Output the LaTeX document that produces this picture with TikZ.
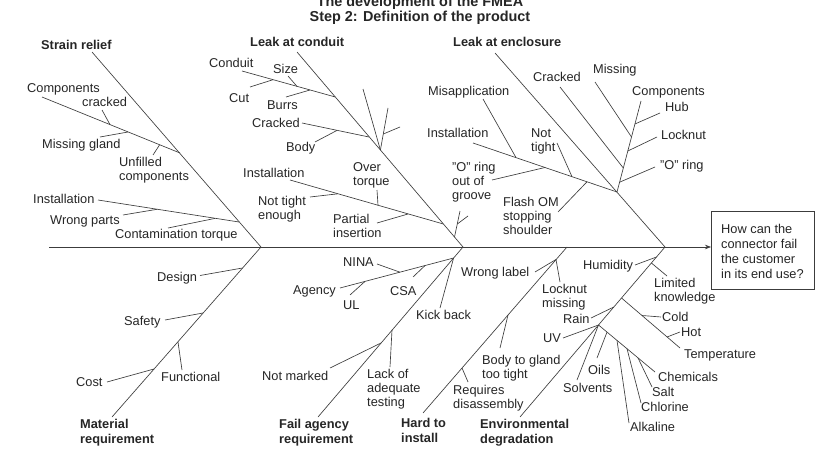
\documentclass[tikz,border=0pt]{standalone}
\usepackage{fontspec}
\setmainfont{Liberation Sans}
\usetikzlibrary{arrows.meta}
\definecolor{ink}{HTML}{262626}
\definecolor{linec}{HTML}{3C3C3C}
\begin{document}
\begin{tikzpicture}[x=1pt,y=-1pt,
  lbl/.style={inner sep=0pt, text=ink, font=\fontsize{12.8}{14}\selectfont, align=left, anchor=north west},
  hd/.style={inner sep=0pt, text=ink, font=\fontsize{12.8}{15}\selectfont\bfseries, align=left, anchor=north west},
  ttl/.style={inner sep=0pt, text=ink, font=\fontsize{14.4}{16}\selectfont\bfseries, anchor=base},
  ln/.style={draw=linec, line width=0.65pt}]
\fill[white] (0,0) rectangle (830,452);
\useasboundingbox (0,0) rectangle (830,452);

% ---------- title ----------
\node[ttl] (t1) at (420,6.5) {The development of the FMEA};
\node[ttl] (t2) at (420,21.5) {Step 2: Definition of the product};

% ---------- spine and box ----------
\coordinate (spL) at (49,247);
\coordinate (SRj) at (261,247);
\coordinate (LCj) at (463,247);
\coordinate (HIj) at (567,247);
\coordinate (LEj) at (665,247);
\node[draw=linec, line width=0.8pt, minimum width=103pt, minimum height=78pt, inner sep=0pt, anchor=north west] (box) at (711,211) {};
\node[lbl, font=\fontsize{12.8}{15}\selectfont] (q) at (721,224.4) {How can the\\connector fail\\the customer\\in its end use?};
\draw[ln, -{Stealth[length=6pt,width=4.5pt]}] (spL) -- (spL -| box.west);

% ---------- main bones ----------
\coordinate (SRt) at (92,52);
\coordinate (MRb) at (112,417);
\coordinate (LCt) at (297,52);
\coordinate (FAb) at (318,417);
\coordinate (LEt) at (495,53);
\coordinate (EDb) at (520,417);
\coordinate (HIb) at (423,413);
\draw[ln] (SRt) -- (SRj) -- (MRb);
\draw[ln] (LCt) -- (LCj) -- (FAb);
\draw[ln] (LEt) -- (LEj) -- (EDb);
\draw[ln] (HIj) -- (HIb);

% ---------- headings ----------
\node[hd] (hSR) at (41,40.4) {Strain relief};
\node[hd] (hLC) at (250,37.4) {Leak at conduit};
\node[hd] (hLE) at (453,37.4) {Leak at enclosure};
\node[hd] (hMR) at (80,419.4) {Material\\requirement};
\node[hd] (hFA) at (279,419.4) {Fail agency\\requirement};
\node[hd] (hHI) at (401,418.4) {Hard to\\install};
\node[hd] (hED) at (480,419.4) {Environmental\\degradation};

% ---------- Strain relief ----------
\node[lbl] (lcomp) at (27,83.4) {Components};
\node[lbl] (lcrk) at (82,97.4) {cracked};
\node[lbl] (lmg) at (42,139.4) {Missing gland};
\node[lbl] (lun) at (119,157.4) {Unfilled\\components};
\node[lbl] (lins) at (33,194.4) {Installation};
\node[lbl] (lwp) at (50,215.4) {Wrong parts};
\node[lbl] (lct) at (115,229.4) {Contamination torque};
\coordinate (cmpE) at (42,97);   \coordinate (cmpJ) at (180,153);
\coordinate (crkE) at (102,110); \coordinate (crkJ) at (110,124.6);
\coordinate (mgE) at (100,137);  \coordinate (mgJ) at (128,132);
\coordinate (unE) at (153,155);  \coordinate (unJ) at (159.5,145);
\coordinate (insE) at (98,200);  \coordinate (insJ) at (239,222);
\coordinate (wpE) at (123,215);  \coordinate (wpJ) at (157,209.3);
\coordinate (ctE) at (168,228);  \coordinate (ctJ) at (215,218.4);
\draw[ln] (cmpE) -- (cmpJ);
\draw[ln] (crkE) -- (crkJ);
\draw[ln] (mgE) -- (mgJ);
\draw[ln] (unE) -- (unJ);
\draw[ln] (insE) -- (insJ);
\draw[ln] (wpE) -- (wpJ);
\draw[ln] (ctE) -- (ctJ);

% ---------- Material requirement ----------
\node[lbl] (lds) at (157,272.4) {Design};
\node[lbl] (lsf) at (124,316.4) {Safety};
\node[lbl] (lfn) at (161,372.4) {Functional};
\node[lbl] (lcs) at (76,377.4) {Cost};
\coordinate (dsE) at (200,275.5); \coordinate (dsJ) at (242.5,268);
\coordinate (sfE) at (165,320);   \coordinate (sfJ) at (203,313);
\coordinate (fnJ) at (178,342);   \coordinate (fnE) at (182,370);
\coordinate (csE) at (107,382);   \coordinate (csJ) at (154,369);
\draw[ln] (dsE) -- (dsJ);
\draw[ln] (sfE) -- (sfJ);
\draw[ln] (fnJ) -- (fnE);
\draw[ln] (csE) -- (csJ);

% ---------- Leak at conduit ----------
\node[lbl] (lcd) at (209,58.4) {Conduit};
\node[lbl] (lsz) at (273,64.4) {Size};
\node[lbl] (lcu) at (229,93.4) {Cut};
\node[lbl] (lbu) at (267,100.4) {Burrs};
\node[lbl] (lck) at (252,118.4) {Cracked};
\node[lbl] (lbd) at (286,142.4) {Body};
\node[lbl] (lil) at (243,168.4) {Installation};
\node[lbl] (lnt) at (258,196.4) {Not tight\\enough};
\node[lbl] (lot) at (353,162.4) {Over\\torque};
\node[lbl] (lpi) at (333,214.4) {Partial\\insertion};
\coordinate (cdE) at (242,71);   \coordinate (cdJ) at (335.3,97);
\coordinate (szE) at (288,76);   \coordinate (szJ) at (297,86.4);
\coordinate (cuE) at (250,87);   \coordinate (cuJ) at (273,79.7);
\coordinate (buE) at (286,97);   \coordinate (buJ) at (310,90);
\coordinate (ckE) at (302,123);  \coordinate (ckJ) at (369,137);
\coordinate (bdE) at (315,142);  \coordinate (bdJ) at (337,130.4);
\coordinate (ilE) at (290,180);  \coordinate (ilJ) at (443.4,224);
\coordinate (ntE) at (310,197);  \coordinate (ntJ) at (338,193.8);
\coordinate (otE) at (377,190);  \coordinate (otJ) at (378,205.3);
\coordinate (piE) at (377,223);  \coordinate (piJ) at (408,214);
\draw[ln] (cdE) -- (cdJ);
\draw[ln] (szE) -- (szJ);
\draw[ln] (cuE) -- (cuJ);
\draw[ln] (buE) -- (buJ);
\draw[ln] (ckE) -- (ckJ);
\draw[ln] (bdE) -- (bdJ);
\draw[ln] (ilE) -- (ilJ);
\draw[ln] (ntE) -- (ntJ);
\draw[ln] (otE) -- (otJ);
\draw[ln] (piE) -- (piJ);
% unlabeled branches
\coordinate (u1E) at (363,89);   \coordinate (u1J) at (380.4,150);
\coordinate (u2T) at (388,108);  \coordinate (u3E) at (400,127);
\coordinate (u3J) at (383.3,134);
\coordinate (u4T) at (460,211);  \coordinate (u4J) at (454.5,237);
\coordinate (u5E) at (468,216);  \coordinate (u5J) at (457.3,224);
\draw[ln] (u1E) -- (u1J);
\draw[ln] (u2T) -- (u1J);
\draw[ln] (u3E) -- (u3J);
\draw[ln] (u4T) -- (u4J);
\draw[ln] (u5E) -- (u5J);

% ---------- Fail agency requirement ----------
\node[lbl] (lni) at (343,257.4) {NINA};
\node[lbl] (lag) at (293,285.4) {Agency};
\node[lbl] (lul) at (343,300.4) {UL};
\node[lbl] (lcsa) at (390,286.4) {CSA};
\node[lbl] (lkb) at (416,310.4) {Kick back};
\node[lbl] (lnm) at (262,371.4) {Not marked};
\node[lbl] (lla) at (367,369.4) {Lack of\\adequate\\testing};
\coordinate (agJ) at (453.6,258); \coordinate (agE) at (340,288);
\coordinate (niE) at (377,264);   \coordinate (niJ) at (400,272.2);
\coordinate (ulJ) at (365,281.4); \coordinate (ulE) at (350,295);
\coordinate (csaJ) at (425,265.6);\coordinate (csaE) at (413,277);
\coordinate (kbE) at (440,308);
\coordinate (nmE) at (330,368);   \coordinate (nmJ) at (381,343);
\coordinate (laJ) at (392,330);   \coordinate (laE) at (390,367);
\draw[ln] (agJ) -- (agE);
\draw[ln] (niE) -- (niJ);
\draw[ln] (ulJ) -- (ulE);
\draw[ln] (csaJ) -- (csaE);
\draw[ln] (agJ) -- (kbE);
\draw[ln] (nmE) -- (nmJ);
\draw[ln] (laJ) -- (laE);

% ---------- Hard to install ----------
\node[lbl] (lwl) at (461,267.4) {Wrong label};
\node[lbl] (llm) at (542,284.4) {Locknut\\missing};
\node[lbl] (lbg) at (482,355.4) {Body to gland\\too tight};
\node[lbl] (lrq) at (453,385.4) {Requires\\disassembly};
\coordinate (wlE) at (535,272);   \coordinate (wlJ) at (556,259.5);
\coordinate (lmE) at (560,282);
\coordinate (bgJ) at (508,315);   \coordinate (bgE) at (500,348);
\coordinate (rqJ) at (462,368);   \coordinate (rqE) at (468,382);
\draw[ln] (wlE) -- (wlJ);
\draw[ln] (wlJ) -- (lmE);
\draw[ln] (bgJ) -- (bgE);
\draw[ln] (rqJ) -- (rqE);

% ---------- Leak at enclosure ----------
\node[lbl] (lma) at (428,86.4) {Misapplication};
\node[lbl] (li2) at (427,128.4) {Installation};
\node[lbl] (ltg) at (531,128.4) {Not\\tight};
\node[lbl] (lor) at (452,162.4) {"O" ring\\out of\\groove};
\node[lbl] (lfl) at (503,197.4) {Flash OM\\stopping\\shoulder};
\node[lbl] (lcr) at (533,72.4) {Cracked};
\node[lbl] (lms) at (593,64.4) {Missing};
\node[lbl] (lco) at (632,86.4) {Components};
\node[lbl] (lhb) at (665,102.4) {Hub};
\node[lbl] (lln) at (661,130.4) {Locknut};
\node[lbl] (lo2) at (660,160.4) {"O" ring};
\coordinate (maE) at (483,99);   \coordinate (maJ) at (516,157.6);
\coordinate (i2E) at (473,143);  \coordinate (i2J) at (617,192);
\coordinate (tgE) at (557,143);  \coordinate (tgJ) at (572,176.7);
\coordinate (orE) at (492,180);  \coordinate (orJ) at (545,167.5);
\coordinate (flE) at (558,212);  \coordinate (flJ) at (587,181.8);
\coordinate (coT) at (641,101);
\coordinate (crE) at (560,87);   \coordinate (crJ) at (623.3,168);
\coordinate (msE) at (595,82);   \coordinate (msJ) at (631.5,137);
\coordinate (hbE) at (660,113);  \coordinate (hbJ) at (634.9,124);
\coordinate (lnE) at (657,137);  \coordinate (lnJ) at (627.8,151);
\coordinate (o2E) at (655,167);  \coordinate (o2J) at (620,182);
\draw[ln] (maE) -- (maJ);
\draw[ln] (i2E) -- (i2J);
\draw[ln] (tgE) -- (tgJ);
\draw[ln] (orE) -- (orJ);
\draw[ln] (flE) -- (flJ);
\draw[ln] (i2J) -- (coT);
\draw[ln] (crE) -- (crJ);
\draw[ln] (msE) -- (msJ);
\draw[ln] (hbE) -- (hbJ);
\draw[ln] (lnE) -- (lnJ);
\draw[ln] (o2E) -- (o2J);

% ---------- Environmental degradation ----------
\node[lbl] (lhu) at (583,260.4) {Humidity};
\node[lbl] (llk) at (654,278.4) {Limited\\knowledge};
\node[lbl] (lrn) at (563,314.4) {Rain};
\node[lbl] (luv) at (543,333.4) {UV};
\node[lbl] (loi) at (588,365.4) {Oils};
\node[lbl] (lsv) at (563,383.4) {Solvents};
\node[lbl] (lcold) at (662,312.4) {Cold};
\node[lbl] (lhot) at (681,327.4) {Hot};
\node[lbl] (ltp) at (684,349.4) {Temperature};
\node[lbl] (lch) at (658,372.4) {Chemicals};
\node[lbl] (lsa) at (652,387.4) {Salt};
\node[lbl] (lcl) at (641,402.4) {Chlorine};
\node[lbl] (lal) at (630,422.4) {Alkaline};
\coordinate (huE) at (635,265);  \coordinate (huJ) at (656.5,257);
\coordinate (lkJ) at (651.4,263);\coordinate (lkE) at (667,276);
\coordinate (tpJ) at (621.5,298);\coordinate (tpE) at (680,348);
\coordinate (cdJ2) at (642,315.5);\coordinate (coldE) at (661,317);
\coordinate (hotJ) at (667,337); \coordinate (hotE) at (680,332);
\coordinate (rnE) at (591,318);  \coordinate (rnJ) at (613.8,307);
\coordinate (uvJ) at (598.5,325);\coordinate (uvE) at (563,338);
\coordinate (svE) at (577,380);
\coordinate (chE) at (655,372);
\coordinate (oiJ) at (607,332.1);\coordinate (oiE) at (597,358);
\coordinate (alJ) at (617,340.4);\coordinate (alE) at (629,423);
\coordinate (clJ) at (627,348.7);\coordinate (clE) at (641,403);
\coordinate (saJ) at (638,357.9);\coordinate (saE) at (652,387);
\draw[ln] (huE) -- (huJ);
\draw[ln] (lkJ) -- (lkE);
\draw[ln] (tpJ) -- (tpE);
\draw[ln] (cdJ2) -- (coldE);
\draw[ln] (hotJ) -- (hotE);
\draw[ln] (rnE) -- (rnJ);
\draw[ln] (uvJ) -- (uvE);
\draw[ln] (uvJ) -- (svE);
\draw[ln] (uvJ) -- (chE);
\draw[ln] (oiJ) -- (oiE);
\draw[ln] (alJ) -- (alE);
\draw[ln] (clJ) -- (clE);
\draw[ln] (saJ) -- (saE);
\end{tikzpicture}
\end{document}
